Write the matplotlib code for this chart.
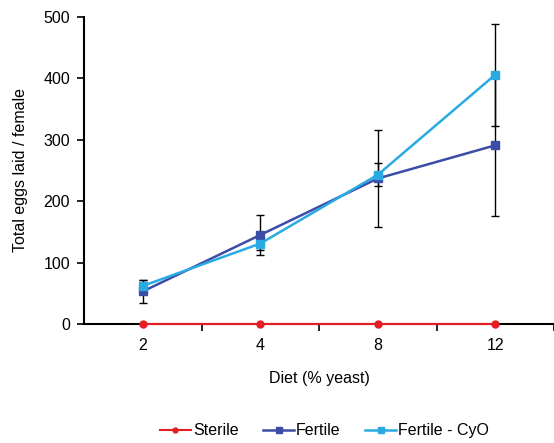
import matplotlib.pyplot as plt
import numpy as np

plt.rcParams["font.family"] = ["Liberation Sans", "DejaVu Sans"]

diet = ["2", "4", "8", "12"]
sterile = [0, 0, 0, 0]
fertile = [53, 145, 237, 291]
fertile_err = [18, 33, 79, 115]
fertile_cyo = [62, 131, 243, 406]
fertile_cyo_err = [9, 10, 19, 83]

x = np.arange(len(diet))
fs = 11.5

fig = plt.figure(figsize=(5.54, 4.43), dpi=100)
ax = fig.add_axes([84 / 554, 1 - 324 / 443, 470 / 554, 307 / 443])

# error bars first so the markers sit on top
ax.errorbar(x, fertile, yerr=fertile_err, fmt="none", ecolor="black",
            elinewidth=1, capsize=3, capthick=1, zorder=2)
ax.errorbar(x, fertile_cyo, yerr=fertile_cyo_err, fmt="none", ecolor="black",
            elinewidth=1, capsize=3, capthick=1, zorder=2)

ax.plot(x, sterile, color="#E31E24", lw=1.5, marker="o", ms=5,
        label="Sterile", zorder=4, clip_on=False)
ax.plot(x, fertile, color="#3B4DA6", lw=1.8, marker="s", ms=6,
        label="Fertile", zorder=3)
ax.plot(x, fertile_cyo, color="#2AAAE2", lw=1.8, marker="s", ms=6,
        label="Fertile - CyO", zorder=3)

ax.set_xlim(-0.5, len(diet) - 0.5)
ax.set_ylim(0, 500)
ax.set_yticks(range(0, 501, 100))
ax.set_xticks(x)
ax.set_xticklabels(diet)
ax.set_xticks(np.arange(0.5, len(diet), 1.0), minor=True)
ax.tick_params(axis="x", which="major", length=0, pad=10, labelsize=fs)
ax.tick_params(axis="x", which="minor", length=5, width=1.2, direction="out")
ax.tick_params(axis="y", length=5, width=1.2, direction="out", labelsize=fs, pad=5)

for side in ["top", "right"]:
    ax.spines[side].set_visible(False)
ax.spines["left"].set_linewidth(1.5)
ax.spines["bottom"].set_linewidth(1.5)

ax.set_ylabel("Total eggs laid / female", fontsize=fs, labelpad=11)
ax.set_xlabel("Diet (% yeast)", fontsize=fs, labelpad=13)

fig.legend(loc="center", bbox_to_anchor=(0.586, 0.028), ncol=3, frameon=False,
           fontsize=fs, handlelength=1.9, columnspacing=1.55, handletextpad=0.15,
           markerscale=0.7)

fig.savefig("out.png", dpi=100)
